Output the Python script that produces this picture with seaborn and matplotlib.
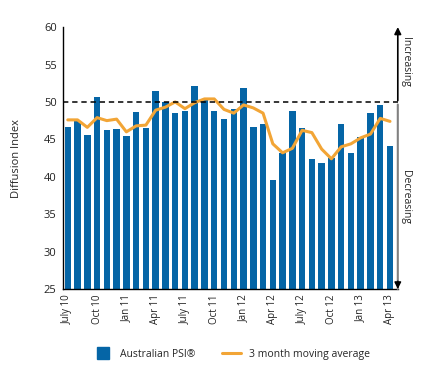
import matplotlib
matplotlib.use("Agg")
import matplotlib.pyplot as plt
from matplotlib.lines import Line2D
import seaborn as sns
import pandas as pd
import numpy as np

months = ["July 10", "Aug 10", "Sep 10", "Oct 10", "Nov 10", "Dec 10",
          "Jan 11", "Feb 11", "Mar 11", "Apr 11", "May 11", "Jun 11",
          "July 11", "Aug 11", "Sep 11", "Oct 11", "Nov 11", "Dec 11",
          "Jan 12", "Feb 12", "Mar 12", "Apr 12", "May 12", "Jun 12",
          "July 12", "Aug 12", "Sep 12", "Oct 12", "Nov 12", "Dec 12",
          "Jan 13", "Feb 13", "Mar 13", "Apr 13"]
psi = [46.7, 47.5, 45.6, 50.7, 46.3, 46.4,
       45.5, 48.7, 46.5, 51.5, 50.0, 48.5,
       48.8, 52.1, 50.3, 48.8, 47.7, 49.1,
       51.9, 46.7, 47.1, 39.6, 43.2, 48.8,
       46.5, 42.4, 41.9, 42.5, 47.1, 43.2,
       45.3, 48.5, 49.6, 44.1]
moving_avg = [47.6, 47.6, 46.6, 47.9, 47.5, 47.7,
              46.0, 46.8, 46.9, 48.9, 49.3, 50.0,
              49.1, 49.9, 50.4, 50.4, 49.0, 48.5,
              49.6, 49.2, 48.5, 44.4, 43.2, 43.8,
              46.2, 45.9, 43.7, 42.4, 44.0, 44.4,
              45.2, 45.7, 47.8, 47.4]
tick_labels = ["July 10", "Oct 10", "Jan 11", "Apr 11", "July 11", "Oct 11",
               "Jan 12", "Apr 12", "July 12", "Oct 12", "Jan 13", "Apr 13"]
legend_labels = ["Australian PSI\u00ae", "3 month moving average"]

bar_color = "#0565A6"
line_color = "#F2A536"

sns.set_style("white")
plt.rcParams["font.family"] = ["Open Sans", "DejaVu Sans"]

df = pd.DataFrame({"month": months, "psi": psi, "ma": moving_avg,
                   "pos": np.arange(len(months))})

fig = plt.figure(figsize=(4.25, 3.71), dpi=100)
ax = fig.add_axes([0.148, 0.221, 0.788, 0.706])

sns.barplot(data=df, x="month", y="psi", color=bar_color, saturation=1,
            width=0.66, linewidth=0, edgecolor=bar_color, ax=ax, zorder=2)
sns.lineplot(data=df, x="pos", y="ma", color=line_color, linewidth=2.2,
             sort=False, ax=ax, zorder=3)

n = len(months)
ax.set_xlim(-0.5, n - 0.2)
ax.set_ylim(25, 60)
ax.set_yticks(range(25, 61, 5))
ax.set_xticks([months.index(t) for t in tick_labels])
ax.set_xticklabels(tick_labels, rotation=90, fontsize=7)
ax.tick_params(axis="y", labelsize=8, direction="inout", length=5, width=0.8,
               pad=2, labelcolor="#222222")
ax.tick_params(axis="x", length=0, pad=4, labelcolor="#222222")
ax.set_xlabel("")
ax.set_ylabel("Diffusion Index", fontsize=8, labelpad=16)

for s in ["top", "right"]:
    ax.spines[s].set_visible(False)
for s in ["left", "bottom"]:
    ax.spines[s].set_color("black")
    ax.spines[s].set_linewidth(1.0)

ax.axhline(50, color="black", linestyle=(0, (3.5, 2.5)), linewidth=1.1, zorder=4)

# right-hand arrows
xa = 1.0
ax.annotate("", xy=(xa, 1.0), xytext=(xa, (50 - 25) / 35 + 0.005),
            xycoords="axes fraction",
            arrowprops=dict(arrowstyle="-|>", color="black", lw=1.2,
                            mutation_scale=10, shrinkA=0, shrinkB=0),
            annotation_clip=False)
ax.annotate("", xy=(xa, 0.0), xytext=(xa, (50 - 25) / 35 - 0.01),
            xycoords="axes fraction",
            arrowprops=dict(arrowstyle="-", color="#808080", lw=1.5,
                            shrinkA=0, shrinkB=0),
            annotation_clip=False)
ax.annotate("", xy=(xa, 0.0), xytext=(xa, 0.03),
            xycoords="axes fraction",
            arrowprops=dict(arrowstyle="-|>", color="black", lw=1.0,
                            mutation_scale=10, shrinkA=0, shrinkB=0),
            annotation_clip=False)
ax.text(1.022, 0.866, "Increasing", transform=ax.transAxes, rotation=-90,
        ha="center", va="center", fontsize=7.5)
ax.text(1.022, 0.351, "Decreasing", transform=ax.transAxes, rotation=-90,
        ha="center", va="center", fontsize=7.5)

handles = [Line2D([], [], marker="s", linestyle="none", markersize=9,
                  color=bar_color),
           Line2D([], [], color=line_color, linewidth=2.2)]
fig.legend(handles, legend_labels, loc="center", bbox_to_anchor=(0.545, 0.045),
           ncol=2, frameon=False, fontsize=7.5, handlelength=1.8,
           columnspacing=2.5, handletextpad=0.8)

fig.savefig("out.png", dpi=100)
